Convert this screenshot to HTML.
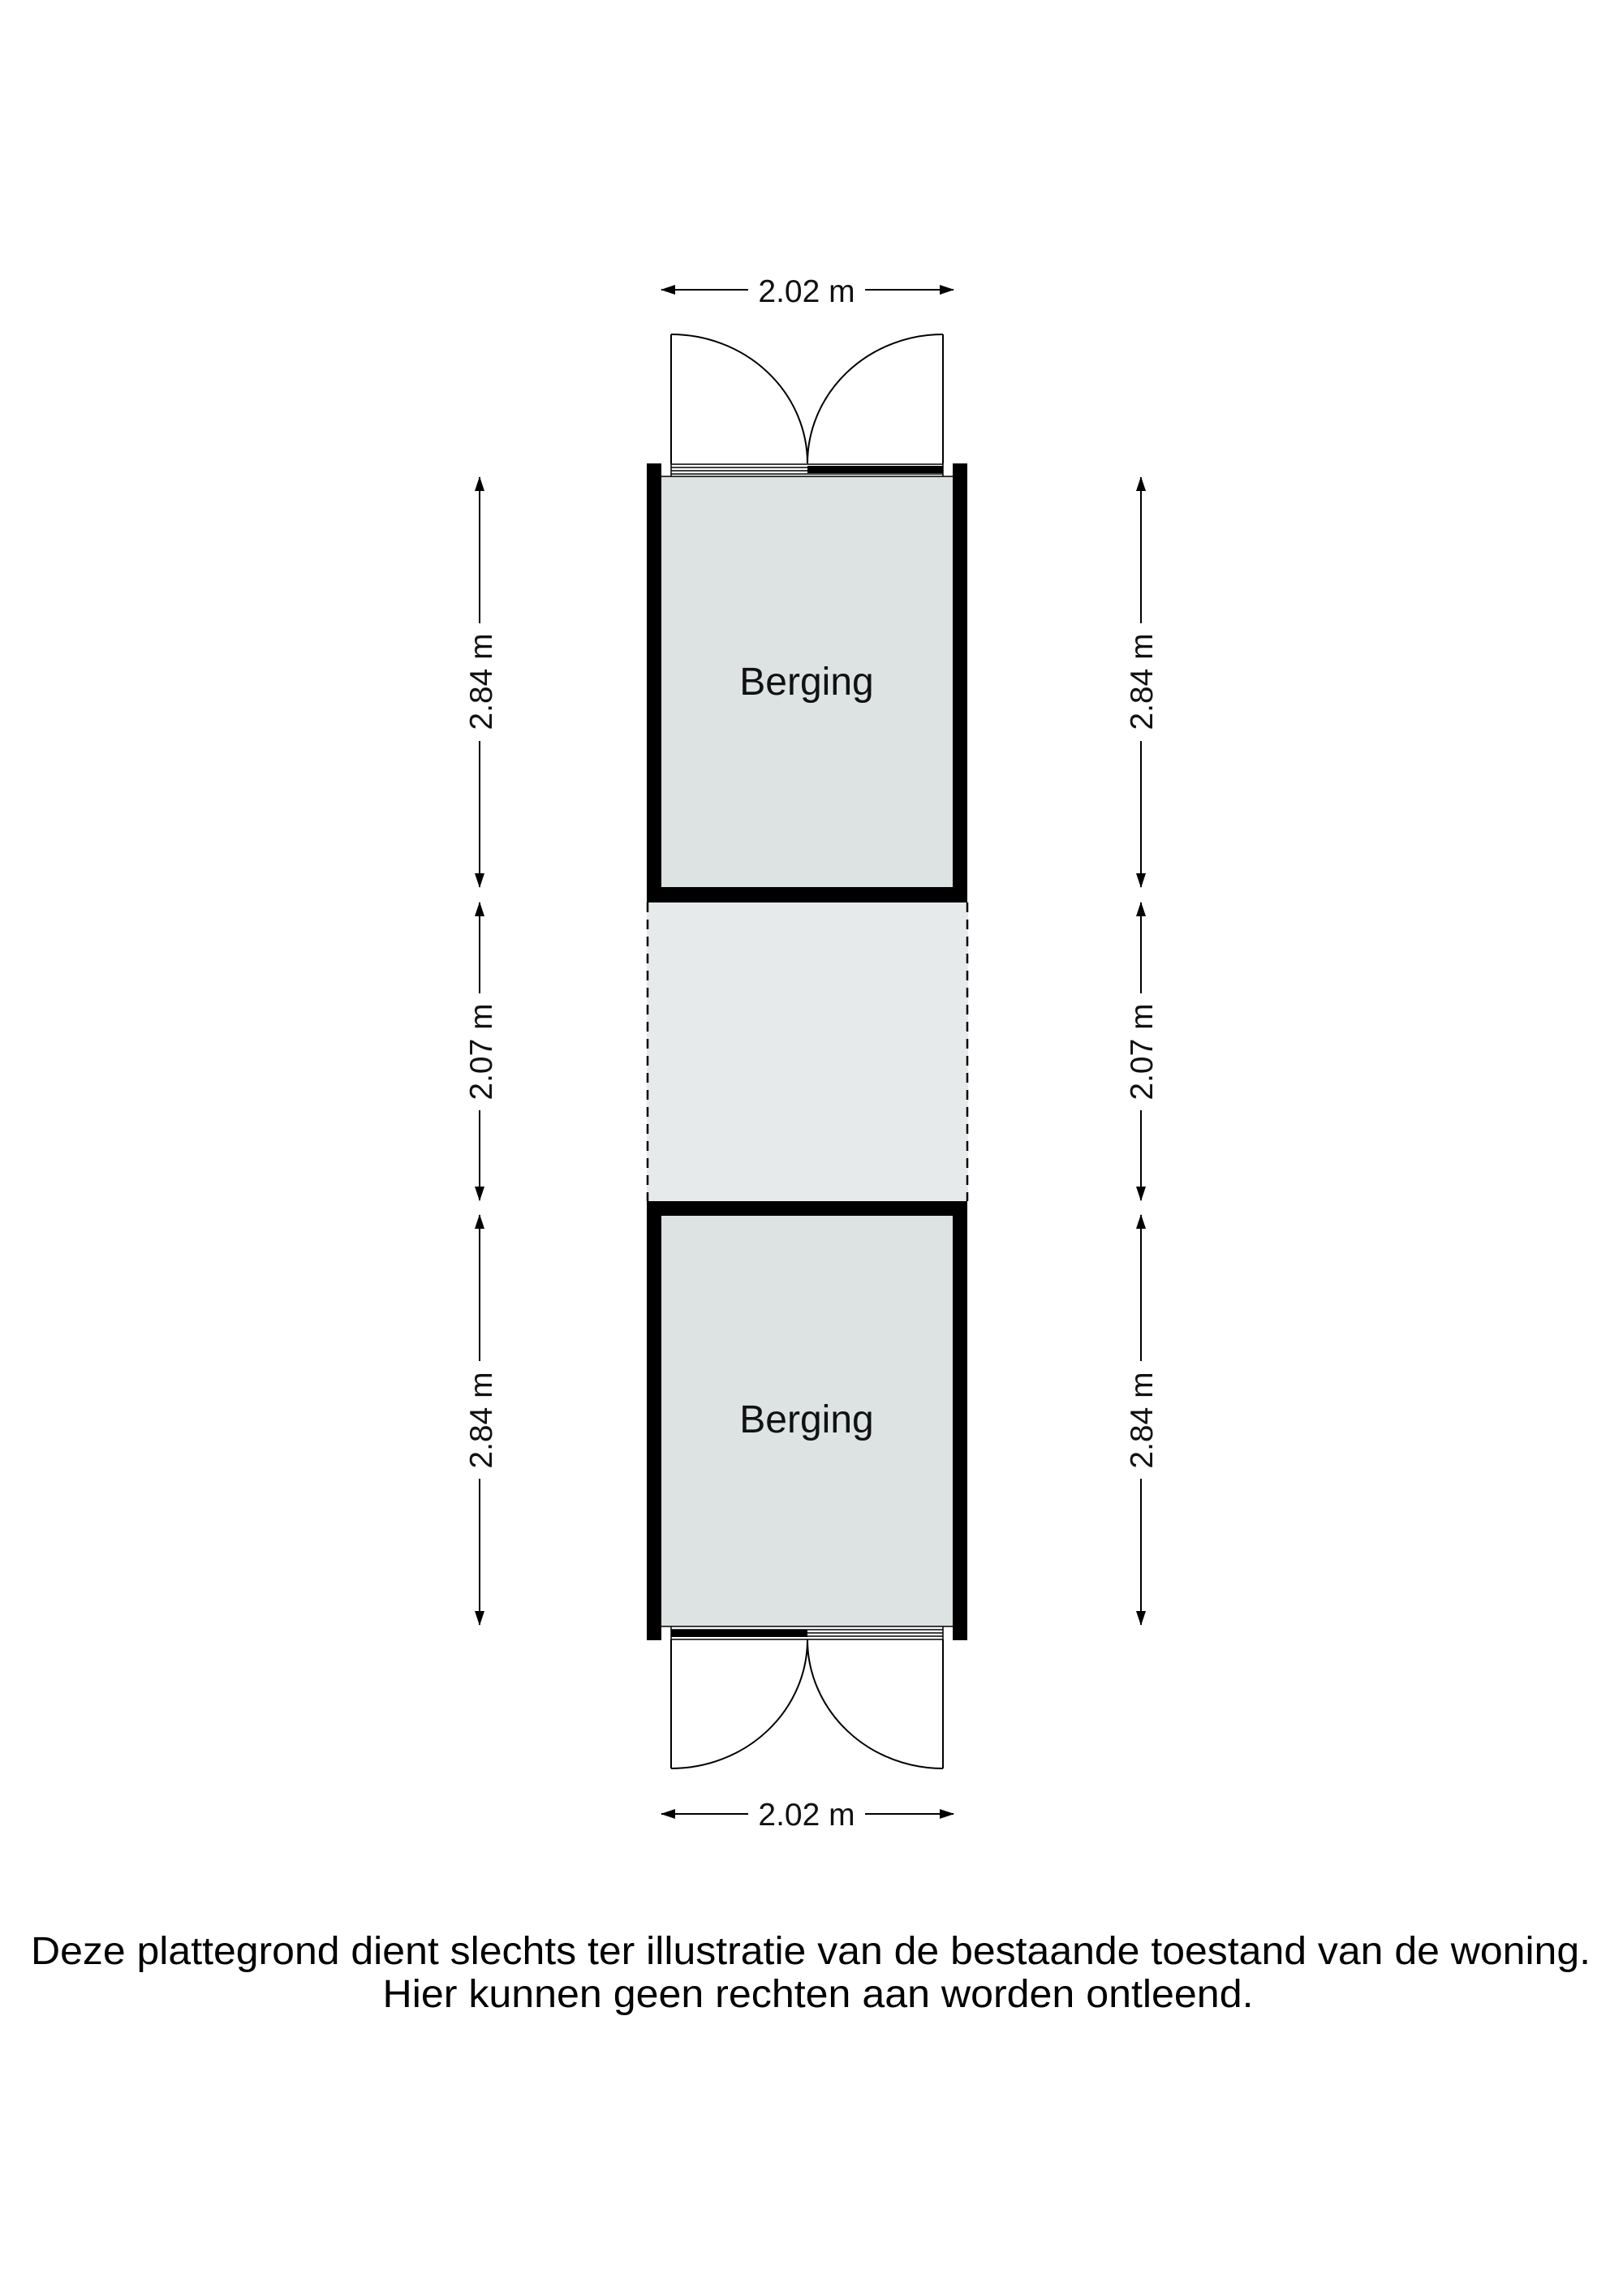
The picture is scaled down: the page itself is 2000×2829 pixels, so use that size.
<!DOCTYPE html>
<html><head><meta charset="utf-8"><style>html,body{margin:0;padding:0;background:#fff}svg{display:block}</style></head>
<body>
<svg width="2000" height="2829" viewBox="0 0 2000 2829" xmlns="http://www.w3.org/2000/svg" font-family="Liberation Sans, Arial, sans-serif">
<defs>
<marker id="ah" markerWidth="18" markerHeight="12" refX="17" refY="6" orient="auto" markerUnits="userSpaceOnUse"><path d="M0,0 L18,6 L0,12 Z" fill="#000"/></marker>
</defs>
<rect width="2000" height="2829" fill="#fff"/>

<rect x="797" y="1112" width="396" height="368" fill="#e6eaeb"/>
<line x1="798" y1="1112" x2="798" y2="1480" stroke="#000" stroke-width="2.5" stroke-dasharray="12,9"/>
<line x1="1192" y1="1112" x2="1192" y2="1480" stroke="#000" stroke-width="2.5" stroke-dasharray="12,9"/>

<rect x="797" y="571" width="395" height="541" fill="#000"/>
<rect x="815" y="587" width="359" height="506" fill="#dde2e2"/>
<rect x="815" y="571" width="359" height="16" fill="#fff"/>
<g stroke="#000" stroke-width="1.5">
<line x1="827" y1="572" x2="1162" y2="572"/>
<line x1="827" y1="576" x2="1162" y2="576"/>
<line x1="827" y1="580" x2="1162" y2="580"/>
<line x1="827" y1="584" x2="1162" y2="584"/>
<line x1="815" y1="587" x2="1174" y2="587"/>
<line x1="827" y1="571" x2="827" y2="587"/>
<line x1="1162" y1="571" x2="1162" y2="587"/>
</g>
<rect x="995" y="574" width="167" height="9" fill="#000"/>
<g fill="none" stroke="#000" stroke-width="2">
<line x1="827" y1="412" x2="827" y2="571"/>
<line x1="1162" y1="412" x2="1162" y2="571"/>
<path d="M827 412 A168 159 0 0 1 995 571"/>
<path d="M1162 412 A167 159 0 0 0 995 571"/>
</g>

<rect x="797" y="1480" width="395" height="541" fill="#000"/>
<rect x="815" y="1498" width="359" height="506" fill="#dde2e2"/>
<rect x="815" y="2004" width="359" height="17" fill="#fff"/>
<g stroke="#000" stroke-width="1.5">
<line x1="815" y1="2004" x2="1174" y2="2004"/>
<line x1="827" y1="2008" x2="1162" y2="2008"/>
<line x1="827" y1="2012" x2="1162" y2="2012"/>
<line x1="827" y1="2016" x2="1162" y2="2016"/>
<line x1="827" y1="2020" x2="1162" y2="2020"/>
<line x1="827" y1="2004" x2="827" y2="2020"/>
<line x1="1162" y1="2004" x2="1162" y2="2020"/>
</g>
<rect x="827" y="2008" width="168" height="9" fill="#000"/>
<g fill="none" stroke="#000" stroke-width="2">
<line x1="827" y1="2020" x2="827" y2="2179"/>
<line x1="1162" y1="2020" x2="1162" y2="2179"/>
<path d="M827 2179 A168 159 0 0 0 995 2020"/>
<path d="M1162 2179 A167 159 0 0 1 995 2020"/>
</g>

<text x="994" y="856" font-size="48" text-anchor="middle" fill="#111">Berging</text>
<text x="994" y="1765" font-size="48" text-anchor="middle" fill="#111">Berging</text>

<g stroke="#000" stroke-width="2" fill="none">
<line x1="922" y1="357" x2="815" y2="357" marker-end="url(#ah)"/>
<line x1="1066" y1="357" x2="1175" y2="357" marker-end="url(#ah)"/>
<line x1="922" y1="2235" x2="815" y2="2235" marker-end="url(#ah)"/>
<line x1="1066" y1="2235" x2="1175" y2="2235" marker-end="url(#ah)"/>
</g>
<text x="994" y="372" font-size="39" text-anchor="middle" fill="#111">2.02 m</text>
<text x="994" y="2249" font-size="39" text-anchor="middle" fill="#111">2.02 m</text>

<g stroke="#000" stroke-width="2" fill="none">
<line x1="591" y1="768" x2="591" y2="588" marker-end="url(#ah)"/>
<line x1="591" y1="913" x2="591" y2="1093" marker-end="url(#ah)"/>
<line x1="591" y1="1224" x2="591" y2="1112" marker-end="url(#ah)"/>
<line x1="591" y1="1368" x2="591" y2="1479" marker-end="url(#ah)"/>
<line x1="591" y1="1677" x2="591" y2="1497" marker-end="url(#ah)"/>
<line x1="591" y1="1822" x2="591" y2="2002" marker-end="url(#ah)"/>
<line x1="1406" y1="768" x2="1406" y2="588" marker-end="url(#ah)"/>
<line x1="1406" y1="913" x2="1406" y2="1093" marker-end="url(#ah)"/>
<line x1="1406" y1="1224" x2="1406" y2="1112" marker-end="url(#ah)"/>
<line x1="1406" y1="1368" x2="1406" y2="1479" marker-end="url(#ah)"/>
<line x1="1406" y1="1677" x2="1406" y2="1497" marker-end="url(#ah)"/>
<line x1="1406" y1="1822" x2="1406" y2="2002" marker-end="url(#ah)"/>
</g>
<g font-size="39" text-anchor="middle" fill="#111">
<text transform="translate(606,840) rotate(-90)">2.84 m</text>
<text transform="translate(606,1296) rotate(-90)">2.07 m</text>
<text transform="translate(606,1750) rotate(-90)">2.84 m</text>
<text transform="translate(1420,840) rotate(-90)">2.84 m</text>
<text transform="translate(1420,1296) rotate(-90)">2.07 m</text>
<text transform="translate(1420,1750) rotate(-90)">2.84 m</text>
</g>

<text x="999" y="2420" font-size="48" text-anchor="middle" textLength="1922" lengthAdjust="spacingAndGlyphs" fill="#000">Deze plattegrond dient slechts ter illustratie van de bestaande toestand van de woning.</text>
<text x="1008" y="2473" font-size="48" text-anchor="middle" textLength="1073" lengthAdjust="spacingAndGlyphs" fill="#000">Hier kunnen geen rechten aan worden ontleend.</text>
</svg>
</body></html>
